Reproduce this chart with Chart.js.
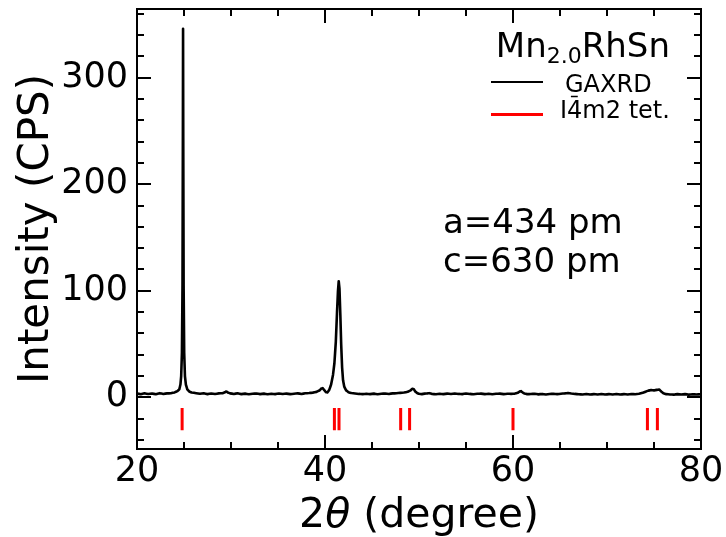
<!DOCTYPE html>
<html>
<head>
<meta charset="utf-8">
<script src="https://cdn.jsdelivr.net/npm/chart.js@4"></script>
<style>
  html, body { margin: 0; padding: 0; background: #ffffff; }
  #wrap { width: 726px; height: 537px; }
</style>
</head>
<body>
<div id="wrap"><canvas id="xrd" width="726" height="537"></canvas></div>
<script>
// GAXRD scan of Mn2.0RhSn: diffraction angle (deg) and counts per second
const twoTheta = [
  20.0, 20.4, 20.8, 21.2, 21.6, 22.0, 22.4, 22.8, 23.2, 23.6, 24.0, 24.3, 24.5, 24.62, 24.7,
  24.78, 24.84, 24.88, 24.9, 24.92, 24.96, 25.02, 25.1, 25.2, 25.35, 25.55, 25.8, 26.3, 26.7, 27.1, 27.5,
  27.9, 28.3, 28.7, 29.1, 29.35, 29.5, 29.65, 29.9, 30.3, 30.7, 31.1, 31.5, 31.9, 32.3, 32.7,
  33.1, 33.5, 33.9, 34.3, 34.7, 35.1, 35.5, 35.9, 36.3, 36.7, 37.1, 37.5, 37.9, 38.3, 38.7,
  39.1, 39.4, 39.6, 39.75, 39.9, 40.1, 40.25, 40.45, 40.65, 40.85, 41.0, 41.15, 41.28, 41.38, 41.46,
  41.54, 41.63, 41.72, 41.82, 41.92, 42.05, 42.25, 42.5, 42.8, 43.2, 43.6, 44.0, 44.4, 44.8, 45.2,
  45.6, 46.0, 46.4, 46.8, 47.2, 47.6, 48.0, 48.4, 48.8, 49.1, 49.3, 49.45, 49.6, 49.8, 50.0,
  50.3, 50.6, 50.9, 51.1, 51.4, 51.8, 52.2, 52.6, 53.0, 53.4, 53.8, 54.2, 54.6, 55.0, 55.4,
  55.8, 56.2, 56.6, 57.0, 57.4, 57.8, 58.2, 58.6, 59.0, 59.4, 59.8, 60.2, 60.5, 60.7, 60.85,
  61.0, 61.2, 61.5, 61.9, 62.3, 62.7, 63.1, 63.5, 63.9, 64.3, 64.7, 65.1, 65.5, 65.85, 66.2,
  66.6, 67.0, 67.4, 67.8, 68.2, 68.6, 69.0, 69.4, 69.8, 70.2, 70.6, 71.0, 71.4, 71.8, 72.2,
  72.6, 73.0, 73.4, 73.8, 74.1, 74.4, 74.7, 75.0, 75.3, 75.55, 75.8, 76.0, 76.3, 76.7, 77.1,
  77.5, 77.9, 78.3, 78.7, 79.1, 79.5, 80.0
];
const intensity = [
  3.6, 2.9, 3.8, 3.1, 3.6, 2.9, 3.9, 3.2, 3.7, 3.8, 4.6, 5.8, 7.5, 12, 20,
  42, 105, 245, 346, 245, 105, 42, 20, 12, 7.5, 5.5, 4.6, 3.9, 3.3, 3.8, 3.0,
  3.6, 3.1, 3.7, 3.9, 4.7, 5.5, 4.6, 3.7, 3.2, 3.8, 3.0, 3.5, 2.9, 3.4, 3.6,
  3.0, 3.5, 2.9, 3.4, 3.0, 3.6, 3.1, 3.5, 3.0, 3.4, 3.7, 3.2, 3.8, 4.0, 4.4,
  5.1, 6.4, 8.2, 8.6, 7.0, 4.8, 4.6, 7, 12, 21, 32, 52, 80, 100, 109,
  102, 78, 50, 28, 16, 10, 6.5, 4.8, 4.0, 3.6, 3.2, 3.0, 3.4, 3.0, 3.5,
  2.9, 3.3, 3.6, 3.2, 3.7, 3.8, 4.2, 4.5, 5.2, 6.5, 8.0, 7.6, 5.5, 4.0, 3.3,
  3.0, 3.5, 3.7, 3.9, 3.1, 2.9, 3.4, 3.0, 3.5, 3.1, 3.6, 3.2, 3.0, 3.6, 3.2,
  2.9, 3.3, 3.5, 3.0, 3.4, 2.9, 3.3, 3.5, 3.0, 3.4, 3.2, 3.5, 4.2, 5.4, 5.8,
  4.8, 3.6, 3.0, 3.1, 3.3, 2.8, 3.2, 2.7, 3.1, 3.3, 3.0, 3.4, 3.7, 4.1, 3.6,
  3.2, 2.9, 2.7, 3.1, 2.6, 3.0, 2.7, 3.1, 2.6, 3.0, 2.7, 3.1, 2.6, 3.0, 2.7,
  3.1, 2.9, 3.3, 4.2, 5.3, 6.3, 6.8, 6.5, 7.0, 7.3, 5.2, 3.8, 3.0, 2.7, 2.5,
  3.0, 2.6, 3.0, 2.5, 2.9, 2.6, 2.9
];

// Calculated reflection positions for the I-4m2 tetragonal cell (deg)
const reflections = [24.8, 41.0, 41.49, 48.05, 49.0, 60.0, 74.3, 75.36];
const reflectionSpan = [-10, -31];

// Axis ranges and tick values
const xRange = [20, 80];
const yRange = [-48.5, 364.5];
const xMajor = [20, 40, 60, 80];
const xMinor = [25, 30, 35, 45, 50, 55, 65, 70, 75];
const yMajor = [0, 100, 200, 300];
const yMinor = [-40, -20, 20, 40, 60, 80, 120, 140, 160, 180, 220, 240, 260, 280, 320, 340, 360];

// Cell parameters shown inside the plot
const cellLines = ['a=434 pm', 'c=630 pm'];

const FONT = 'DejaVu Sans';

const scanPoints = twoTheta.map((t, i) => ({ x: t, y: intensity[i] }));
const reflectionPoints = [];
reflections.forEach(r => {
  reflectionPoints.push({ x: r, y: reflectionSpan[0] });
  reflectionPoints.push({ x: r, y: reflectionSpan[1] });
  reflectionPoints.push({ x: r, y: null });
});

const decorations = {
  id: 'decorations',
  afterDraw(chart) {
    const { ctx, chartArea: a, scales: { x, y } } = chart;
    ctx.save();

    // plot frame
    ctx.strokeStyle = '#000000';
    ctx.lineWidth = 2;
    ctx.strokeRect(a.left, a.top, a.right - a.left, a.bottom - a.top);

    // inward ticks on all four sides
    ctx.lineWidth = 2;
    ctx.beginPath();
    const xt = (vals, len) => vals.forEach(v => {
      const px = Math.round(x.getPixelForValue(v));
      ctx.moveTo(px, a.bottom); ctx.lineTo(px, a.bottom - len);
      ctx.moveTo(px, a.top); ctx.lineTo(px, a.top + len);
    });
    const yt = (vals, len) => vals.forEach(v => {
      const py = Math.round(y.getPixelForValue(v));
      ctx.moveTo(a.left, py); ctx.lineTo(a.left + len, py);
      ctx.moveTo(a.right, py); ctx.lineTo(a.right - len, py);
    });
    xt(xMajor, 14); xt(xMinor, 7);
    yt(yMajor, 14); yt(yMinor, 7);
    ctx.stroke();

    ctx.fillStyle = '#000000';
    ctx.textBaseline = 'alphabetic';

    // x axis title: 2θ (degree)
    ctx.font = `41px ${FONT}`;
    const p1 = '2', p3 = ' (degree)';
    const w1 = ctx.measureText(p1).width;
    const w3 = ctx.measureText(p3).width;
    ctx.font = `italic 41px ${FONT}`;
    const w2 = ctx.measureText('θ').width;
    let sx = (a.left + a.right) / 2 - (w1 + w2 + w3) / 2;
    const by = 527;
    ctx.textAlign = 'left';
    ctx.font = `41px ${FONT}`;
    ctx.fillText(p1, sx, by);
    ctx.font = `italic 41px ${FONT}`;
    ctx.fillText('θ', sx + w1, by);
    ctx.font = `41px ${FONT}`;
    ctx.fillText(p3, sx + w1 + w2, by);

    // y axis title
    ctx.save();
    ctx.translate(48, (a.top + a.bottom) / 2);
    ctx.rotate(-Math.PI / 2);
    ctx.textAlign = 'center';
    ctx.font = `42px ${FONT}`;
    ctx.fillText('Intensity (CPS)', 0, 0);
    ctx.restore();

    // legend title Mn2.0RhSn with subscript
    ctx.textAlign = 'left';
    ctx.font = `34px ${FONT}`;
    const tMn = ctx.measureText('Mn').width;
    const tRh = ctx.measureText('RhSn').width;
    ctx.font = `22px ${FONT}`;
    const tSub = ctx.measureText('2.0').width;
    let tx = 670 - (tMn + tSub + tRh);
    ctx.font = `34px ${FONT}`;
    ctx.fillText('Mn', tx, 57);
    ctx.font = `22px ${FONT}`;
    ctx.fillText('2.0', tx + tMn, 63);
    ctx.font = `34px ${FONT}`;
    ctx.fillText('RhSn', tx + tMn + tSub, 57);

    // legend entries
    ctx.lineCap = 'butt';
    ctx.strokeStyle = '#000000';
    ctx.lineWidth = 2;
    ctx.beginPath(); ctx.moveTo(491, 82); ctx.lineTo(543, 82); ctx.stroke();
    ctx.strokeStyle = '#ff0000';
    ctx.lineWidth = 3;
    ctx.beginPath(); ctx.moveTo(491, 114.5); ctx.lineTo(543, 114.5); ctx.stroke();
    ctx.font = `24px ${FONT}`;
    ctx.fillText('GAXRD', 565, 92);
    const iW = ctx.measureText('I').width;
    const fourW = ctx.measureText('4').width;
    ctx.fillText('I4m2 tet.', 560, 117.5);
    // bar over the 4 of I-4m2
    ctx.strokeStyle = '#000000';
    ctx.lineWidth = 1.5;
    ctx.beginPath();
    ctx.moveTo(560 + iW + fourW * 0.25, 96.5);
    ctx.lineTo(560 + iW + fourW * 0.7, 96.5);
    ctx.stroke();

    // cell parameters
    ctx.font = `34px ${FONT}`;
    ctx.fillText(cellLines[0], 443, 233);
    ctx.fillText(cellLines[1], 443, 272);

    ctx.restore();
  }
};

new Chart(document.getElementById('xrd'), {
  type: 'scatter',
  data: {
    datasets: [
      {
        label: 'GAXRD',
        data: scanPoints,
        showLine: true,
        borderColor: '#000000',
        borderWidth: 2.6,
        borderJoinStyle: 'round',
        pointRadius: 0,
        // a tiny tension keeps every vertex in the path (no per-pixel fast path)
        tension: 0.001
      },
      {
        label: 'I-4m2 tet.',
        data: reflectionPoints,
        showLine: true,
        spanGaps: false,
        borderColor: '#ff0000',
        borderWidth: 3,
        pointRadius: 0,
        borderCapStyle: 'butt'
      }
    ]
  },
  options: {
    responsive: false,
    animation: false,
    devicePixelRatio: 1,
    layout: { padding: { top: 9, right: 25, left: 0, bottom: 0 } },
    plugins: { legend: { display: false }, tooltip: { enabled: false } },
    scales: {
      x: {
        type: 'linear',
        min: xRange[0],
        max: xRange[1],
        afterBuildTicks: s => { s.ticks = xMajor.map(v => ({ value: v })); },
        afterFit: s => { s.height = 88; s.paddingLeft = 0; s.paddingRight = 0; },
        grid: { display: false, drawTicks: false },
        border: { display: false },
        ticks: { color: '#000000', padding: 2, maxRotation: 0, font: { family: FONT, size: 35 } }
      },
      y: {
        type: 'linear',
        min: yRange[0],
        max: yRange[1],
        afterBuildTicks: s => { s.ticks = yMajor.map(v => ({ value: v })); },
        afterFit: s => { s.width = 137; s.paddingTop = 0; s.paddingBottom = 0; },
        grid: { display: false, drawTicks: false },
        border: { display: false },
        ticks: { color: '#000000', padding: 9, font: { family: FONT, size: 35 } }
      }
    }
  },
  plugins: [decorations]
});
</script>
</body>
</html>
